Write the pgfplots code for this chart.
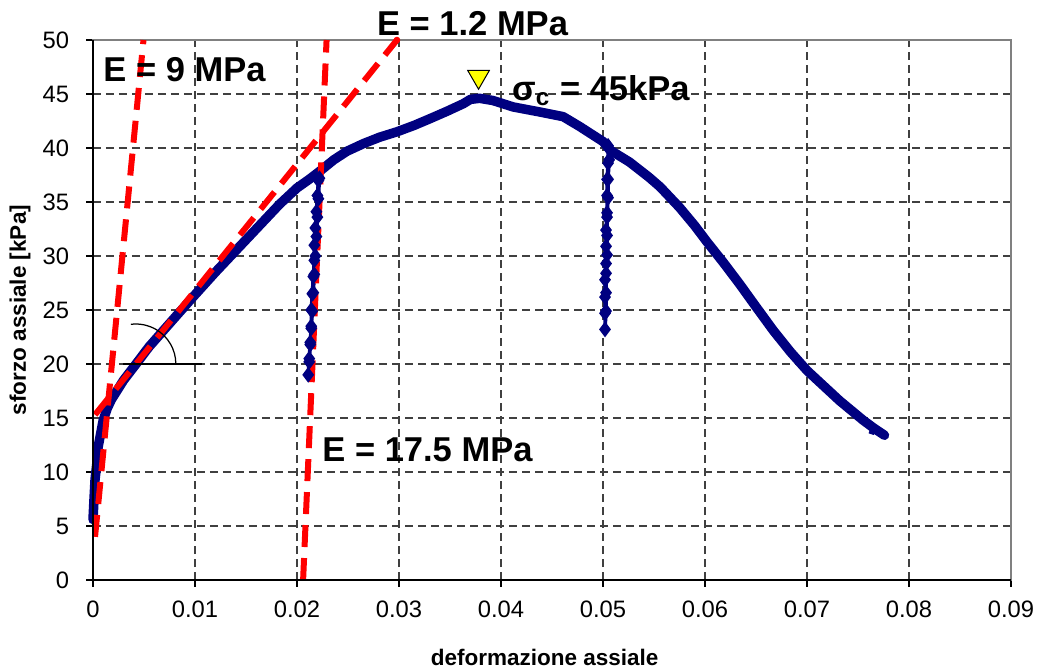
\documentclass[border=0pt]{standalone}
\usepackage{fontspec}
\setmainfont{Liberation Sans}
\usepackage{pgfplots}
\pgfplotsset{compat=1.18}
\definecolor{curveblue}{RGB}{0,0,128}
\definecolor{tanred}{RGB}{255,0,0}
\definecolor{peakyellow}{RGB}{255,255,0}

\begin{document}
\begin{tikzpicture}
\useasboundingbox (-37.2pt,-35.6pt) rectangle (377.6pt,232pt);
\begin{axis}[
  scale only axis, width=367.2pt, height=216pt,
  xmin=0, xmax=0.09, ymin=0, ymax=50,
  clip=false,
  scaled x ticks=false, scaled y ticks=false,
  xtick={0,0.01,0.02,0.03,0.04,0.05,0.06,0.07,0.08,0.09},
  xticklabels={0,0.01,0.02,0.03,0.04,0.05,0.06,0.07,0.08,0.09},
  ytick={0,5,10,15,20,25,30,35,40,45,50},
  yticklabels={0,5,10,15,20,25,30,35,40,45,50},
  tick align=outside, tick pos=left,
  major tick length=2.6pt,
  tick style={black, line width=0.5pt},
  grid=major,
  major grid style={black!75, line width=0.45pt, dash pattern=on 3.2pt off 2pt},
  axis line style={gray, line width=0.6pt},
  ticklabel style={font=\fontsize{9.5}{11}\selectfont},
  xticklabel style={yshift=-2.2pt},
  yticklabel style={xshift=-3.4pt},
  xlabel={\textbf{deformazione assiale}},
  ylabel={\textbf{sforzo assiale [kPa]}},
  label style={font=\fontsize{9}{11}\selectfont},
  xlabel style={at={(axis description cs:0.492,-0.1426)}, anchor=center},
  ylabel style={at={(axis description cs:-0.0795,0.5)}, anchor=center},
]

% stress-strain curve (main branch)
\addplot[curveblue, line width=3.8pt, line join=round, line cap=round] coordinates {
  (0.0000,5.6) (0.0001,7.5) (0.0002,9.3) (0.0004,11.0) (0.0005,12.3)
  (0.0008,13.8) (0.0010,14.8) (0.0014,15.9) (0.0018,16.7) (0.0024,17.6)
  (0.0030,18.5) (0.0043,20.1) (0.0055,21.6) (0.0069,23.1) (0.0083,24.6)
  (0.0098,26.2) (0.0120,28.5) (0.0141,30.6) (0.0162,32.7) (0.0183,34.8)
  (0.0200,36.3) (0.0212,37.1) (0.0223,37.9) (0.0236,38.9) (0.0249,39.7)
  (0.0265,40.4) (0.0281,41.0) (0.0298,41.5) (0.0315,42.1) (0.0330,42.7)
  (0.0347,43.4) (0.0363,44.1) (0.0370,44.5) (0.0379,44.6) (0.0392,44.4)
  (0.0412,43.8) (0.0440,43.3) (0.0461,42.9) (0.0477,42.0) (0.0500,40.6)
  (0.0507,39.8) (0.0526,38.7) (0.0545,37.3) (0.0556,36.4) (0.0575,34.5)
  (0.0590,32.8) (0.0602,31.3) (0.0618,29.4) (0.0634,27.4) (0.0650,25.3)
  (0.0667,23.1) (0.0684,21.1) (0.0700,19.4) (0.0716,18.0) (0.0732,16.6)
  (0.0755,14.8) (0.0765,14.1) (0.0776,13.4)
};
\addplot[curveblue, line width=2.2pt] coordinates {(0.0765,14.1) (0.0763,13.5)};

% unloading-reloading cycle at 2.2 %
\addplot[curveblue, line width=1.4pt, mark=diamond*, mark size=2pt,
  mark options={fill=curveblue, draw=curveblue}] coordinates {
  (0.0221,37.0) (0.0220,35.6) (0.0219,34.1) (0.0218,32.6) (0.0217,31.0)
  (0.0217,29.6) (0.0216,28.1) (0.0215,26.5) (0.0214,25.0) (0.0214,23.5)
  (0.0213,22.0) (0.0212,20.5) (0.0211,19.0) (0.0212,20.2) (0.0213,21.8)
  (0.0214,23.3) (0.0215,24.9) (0.0216,26.6) (0.0217,28.3) (0.0218,30.0)
  (0.0219,31.8) (0.0220,33.6) (0.0221,35.3) (0.0222,37.2)
};

% unloading-reloading cycle at 5 %
\addplot[curveblue, line width=1.4pt, mark=diamond*, mark size=2pt,
  mark options={fill=curveblue, draw=curveblue}] coordinates {
  (0.0505,40.2) (0.0505,38.6) (0.0504,37.1) (0.0504,35.6) (0.0504,34.0)
  (0.0503,32.4) (0.0503,30.9) (0.0503,29.3) (0.0502,27.8) (0.0502,26.2)
  (0.0502,24.7) (0.0502,23.2) (0.0503,24.9) (0.0503,26.6) (0.0503,28.4)
  (0.0504,30.1) (0.0504,31.9) (0.0504,33.6) (0.0505,35.4) (0.0505,37.1)
  (0.0506,38.9) (0.0507,39.8)
};

% tangent moduli
\addplot[tanred, line width=2.4pt, dash pattern=on 8.8pt off 4.4pt] coordinates {(0.0002,4.0) (0.00495,50)};
\addplot[tanred, line width=2.4pt, dash pattern=on 8.8pt off 4.4pt] coordinates {(0.0002,15.3) (0.0298,50)};
\addplot[tanred, line width=2.4pt, dash pattern=on 8.8pt off 4.4pt] coordinates {(0.0206,0) (0.0229,50)};
\addplot[only marks, mark=*, mark size=1.1pt, tanred] coordinates {(0.0298,50)};

% peak strength
\addplot[only marks, mark=triangle*, mark size=5pt,
  mark options={rotate=180, fill=peakyellow, draw=black, line width=0.4pt}] coordinates {(0.0378,46.6)};

% angle of the secant modulus
\draw[black, line width=0.5pt] (axis cs:0.00297,20) -- (axis cs:0.01066,20);
\draw[black, line width=0.5pt] (axis cs:0.0042,20) ++(16pt,0) arc[start angle=0, end angle=97, radius=16pt];

% axis lines
\draw[black, line width=0.6pt] (rel axis cs:0,1) -- (rel axis cs:0,0) -- (rel axis cs:1,0);

% annotations
\node[anchor=base west, inner sep=0pt, font=\bfseries\fontsize{13.8}{16}\selectfont] at (axis cs:0.00098,46.14) {E = 9 MPa};
\node[anchor=base west, inner sep=0pt, font=\bfseries\fontsize{13.8}{16}\selectfont] at (axis cs:0.02781,50.46) {E = 1.2 MPa};
\node[anchor=base west, inner sep=0pt, font=\bfseries\fontsize{13.8}{16}\selectfont] at (axis cs:0.02245,10.97) {E = 17.5 MPa};
\node[anchor=base west, inner sep=0pt, font=\bfseries\fontsize{13.8}{16}\selectfont] at (axis cs:0.04105,44.44) {σ\textsubscript{c} = 45kPa};
\end{axis}
\end{tikzpicture}
\end{document}
